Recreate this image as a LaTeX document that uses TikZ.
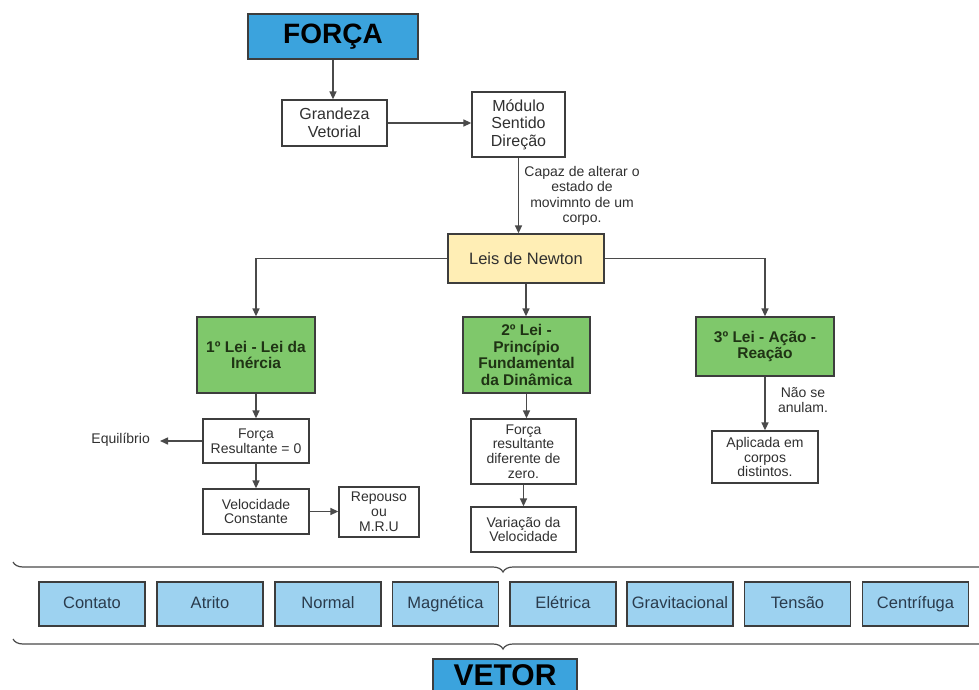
\documentclass[tikz,border=0pt]{standalone}
\usepackage{fontspec}
\setmainfont{Liberation Sans}
\usetikzlibrary{arrows.meta,decorations.pathreplacing}
\definecolor{titleblue}{HTML}{3BA3DD}
\definecolor{lightblue}{HTML}{9DD2F0}
\definecolor{lawgreen}{HTML}{7FC86B}
\definecolor{lawyellow}{HTML}{FFEEB5}
\definecolor{bordc}{HTML}{3D3D3D}
\definecolor{linec}{HTML}{4A4A4A}
\definecolor{txtc}{HTML}{303030}
\definecolor{greentxt}{HTML}{1F3314}
\definecolor{bottomtxt}{HTML}{2A3B4C}
\begin{document}
\begin{tikzpicture}[x=1pt,y=-1pt,
  box/.style={draw=bordc, line width=1.3pt, inner sep=0pt, align=center, text=txtc},
  titlebox/.style={box, fill=titleblue, text=black, font=\fontsize{28}{30}\selectfont\bfseries},
  mainbox/.style={box, fill=white, font=\fontsize{16}{17.5}\selectfont},
  smallbox/.style={box, fill=white, font=\fontsize{14}{14.8}\selectfont},
  lawbox/.style={box, fill=lawgreen, text=greentxt, font=\fontsize{15.5}{16.7}\selectfont\bfseries},
  kindbox/.style={box, fill=lightblue, text=bottomtxt, minimum width=106pt, minimum height=44pt, text height=12pt, text depth=3.5pt, font=\fontsize{16.5}{18}\selectfont},
  note/.style={inner sep=0pt, align=center, text=txtc},
  arr/.style={draw=linec, line width=1.5pt, -{Triangle[length=8pt,width=7pt]}},
  bracestyle/.style={draw=linec, line width=1.2pt, decorate, decoration={brace, amplitude=10pt}}
]
\useasboundingbox (0,0) rectangle (979,690);
\clip (0,0) rectangle (979,690);

% title
\node[titlebox, minimum width=170pt, minimum height=45pt] (forca) at (333,36.5) {FORÇA};

\node[mainbox, minimum width=105pt, minimum height=46pt] (grandeza) at (334.5,123) {Grandeza\\Vetorial};
\node[mainbox, minimum width=93pt, minimum height=65pt] (modulo) at (518.5,124.5) {Módulo\\Sentido\\Direção};

\node[note, font=\fontsize{14}{15.5}\selectfont] (capaz) at (582,196) {Capaz de alterar o\\estado de\\movimnto de um\\corpo.};

\node[box, fill=lawyellow, minimum width=156pt, minimum height=49pt, font=\fontsize{16.5}{18}\selectfont] (leis) at (526,258.5) {Leis de Newton};

\node[lawbox, minimum width=118pt, minimum height=76pt] (lei1) at (256,355) {1º Lei - Lei da\\Inércia};
\node[lawbox, minimum width=127pt, minimum height=76pt] (lei2) at (526.5,355) {2º Lei -\\Princípio\\Fundamental\\da Dinâmica};
\node[lawbox, minimum width=138pt, minimum height=59pt] (lei3) at (765,346.5) {3º Lei - Ação -\\Reação};

\node[smallbox, minimum width=106pt, minimum height=44pt] (fr0) at (256,441) {Força\\Resultante = 0};
\node[note, anchor=east, inner xsep=10pt, font=\fontsize{14}{15}\selectfont] (equil) at (160,440) {Equilíbrio};
\node[smallbox, minimum width=106pt, minimum height=45pt] (vel) at (256,511.5) {Velocidade\\Constante};
\node[smallbox, minimum width=80pt, minimum height=50pt] (rep) at (379,512) {Repouso\\ou\\M.R.U};

\node[smallbox, minimum width=105pt, minimum height=65pt] (frd) at (523.5,451.5) {Força\\resultante\\diferente de\\zero.};
\node[smallbox, minimum width=105pt, minimum height=45pt] (var) at (523.5,529.5) {Variação da\\Velocidade};

\node[note, font=\fontsize{14}{14.8}\selectfont] (naose) at (803,400) {Não se\\anulam.};
\node[smallbox, minimum width=106pt, minimum height=52pt] (apl) at (765,457) {Aplicada em\\corpos\\distintos.};

% connectors
\draw[arr] (forca.south) -- (forca.south |- grandeza.north);
\draw[arr] (grandeza.east) -- (grandeza.east -| modulo.west);
\draw[arr] (modulo.south) -- (modulo.south |- leis.north);
\draw[arr] (leis.west) -| (lei1.north);
\draw[arr] (leis.south) -- (leis.south |- lei2.north);
\draw[arr] (leis.east) -| (lei3.north);
\draw[arr] (lei1.south) -- (fr0.north);
\draw[arr] (fr0.west) -- (fr0.west -| equil.east);
\draw[arr] (fr0.south) -- (vel.north);
\draw[arr] (vel.east) -- (vel.east -| rep.west);
\draw[arr] (lei2.south) -- (lei2.south |- frd.north);
\draw[arr] (frd.south) -- (var.north);
\draw[arr] (lei3.south) -- (apl.north);

% kinds of force
\node[kindbox] (contato) at (92,604) {Contato};
\node[kindbox] (atrito) at (210,604) {Atrito};
\node[kindbox] (normal) at (328,604) {Normal};
\node[kindbox] (magnetica) at (445.5,604) {Magnética};
\node[kindbox] (eletrica) at (563,604) {Elétrica};
\node[kindbox] (gravitacional) at (680,604) {Gravitacional};
\node[kindbox] (tensao) at (797.5,604) {Tensão};
\node[kindbox] (centrifuga) at (915.5,604) {Centrífuga};

% braces
\coordinate (btl) at (13,562);
\coordinate (btr) at (993,562);
\coordinate (bbl) at (13,639);
\coordinate (bbr) at (993,639);
\draw[bracestyle] (btr) -- (btl);
\draw[bracestyle] (bbr) -- (bbl);

% bottom title
\node[box, fill=titleblue, text=black, minimum width=144pt, text height=20pt, text depth=10pt, inner ysep=6pt, font=\fontsize{30}{32}\selectfont\bfseries] (vetor) at (505,680) {VETOR};
\end{tikzpicture}
\end{document}
